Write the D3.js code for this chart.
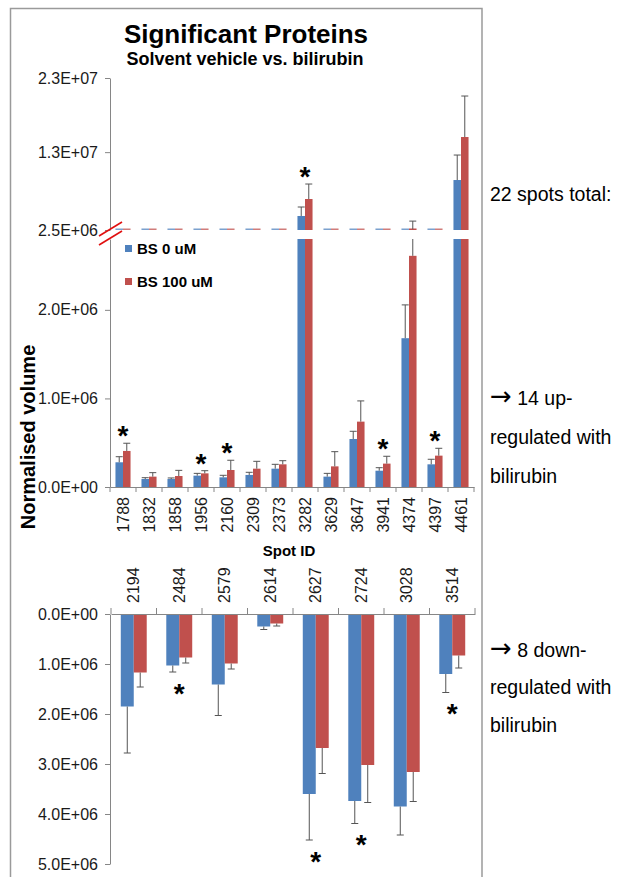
<!DOCTYPE html>
<html><head><meta charset="utf-8">
<script src="https://cdn.jsdelivr.net/npm/d3@7"></script>
<style>
body{margin:0;background:#fff}
svg{display:block}
text{font-family:"Liberation Sans",Arial,sans-serif}
</style>
</head><body>
<svg id="c" width="620" height="877"></svg>
<script>
// ---------- data ----------
const series = ["BS 0 uM", "BS 100 uM"];
const upIds = ["1788","1832","1858","1956","2160","2309","2373","3282","3629","3647","3941","4374","4397","4461"];
const upBS0     = [0.279e6, 0.090e6, 0.090e6, 0.128e6, 0.109e6, 0.136e6, 0.207e6, 4.39e6, 0.117e6, 0.542e6, 0.184e6, 1.68e6, 0.256e6, 9.24e6];
const upBS0Err  = [0.063e6, 0.015e6, 0.012e6, 0.026e6, 0.023e6, 0.030e6, 0.049e6, 1.21e6, 0.037e6, 0.087e6, 0.034e6, 0.376e6, 0.057e6, 3.37e6];
const upBS100   = [0.407e6, 0.117e6, 0.124e6, 0.154e6, 0.192e6, 0.207e6, 0.256e6, 6.68e6, 0.233e6, 0.738e6, 0.264e6, 2.61e6, 0.354e6, 15.04e6];
const upBS100Err= [0.087e6, 0.045e6, 0.064e6, 0.030e6, 0.110e6, 0.083e6, 0.041e6, 2.02e6, 0.166e6, 0.234e6, 0.083e6, 1.09e6, 0.083e6, 5.53e6];
const upSig = ["1788","1956","2160","3282","3941","4397"];

const downIds = ["2194","2484","2579","2614","2627","2724","3028","3514"];
const downBS0     = [1.85e6, 1.03e6, 1.41e6, 0.25e6, 3.60e6, 3.74e6, 3.85e6, 1.20e6];
const downBS0Err  = [0.93e6, 0.13e6, 0.62e6, 0.06e6, 0.92e6, 0.45e6, 0.57e6, 0.37e6];
const downBS100   = [1.17e6, 0.87e6, 0.99e6, 0.19e6, 2.68e6, 3.02e6, 3.16e6, 0.83e6];
const downBS100Err= [0.29e6, 0.11e6, 0.11e6, 0.05e6, 0.51e6, 0.75e6, 0.59e6, 0.25e6];
const downSig = ["2484","2627","2724","3514"];

const upTicksHigh = [2.5e6, 1.3e7, 2.3e7];
const upTicksLow = [0, 1e6, 2e6];
const downTicks = [0, 1e6, 2e6, 3e6, 4e6, 5e6];

const titleText = "Significant Proteins";
const subtitleText = "Solvent vehicle vs. bilirubin";
const yTitle = "Normalised volume";
const xTitle = "Spot ID";
// side notes: [arrow?, text]
const sideUp = [["", "22 spots total:"], ["\u2192", " 14 up-"], ["", "regulated with"], ["", "bilirubin"]];
const sideDown = [["\u2192", " 8 down-"], ["", "regulated with"], ["", "bilirubin"]];

// ---------- style ----------
const colors = ["#4F81BD", "#C0504D"];
const axisColor = "#868686";
const errColor = "#555";
const textColor = "#1a1a1a";

const fmt = v => {
  const [m, e] = v.toExponential(1).split("e");
  const n = +e;
  return m + "E" + (n < 0 ? "-" : "+") + String(Math.abs(n)).padStart(2, "0");
};

const svg = d3.select("#c");
svg.append("rect").attr("width", 620).attr("height", 877).attr("fill", "#fff");
svg.append("rect").attr("x", 10.5).attr("y", 8.5).attr("width", 471.5).attr("height", 900)
  .attr("fill", "none").attr("stroke", "#9a9a9a").attr("stroke-width", 1.5);

// ---------- scales ----------
const brkLo = 2.5e6, lowTop = 2.8e6;
const yH = d3.scaleLinear().domain([brkLo, 2.3e7]).range([230, 78]);
const yL = d3.scaleLinear().domain([0, lowTop]).range([487, 239]);
const yD = d3.scaleLinear().domain([0, 5e6]).range([614, 864]);

const x0 = d3.scaleBand().domain(upIds).range([110, 474]).paddingInner(0.42).paddingOuter(0.21);
const x1 = d3.scaleBand().domain([0, 1]).range([0, x0.bandwidth()]);
const xd0 = d3.scaleBand().domain(downIds).range([111, 475]).paddingInner(0.43).paddingOuter(0.215);
const xd1 = d3.scaleBand().domain([0, 1]).range([0, xd0.bandwidth()]);

const upRows = upIds.map((id, i) => ({id, v: [upBS0[i], upBS100[i]], e: [upBS0Err[i], upBS100Err[i]]}));
const downRows = downIds.map((id, i) => ({id, v: [downBS0[i], downBS100[i]], e: [downBS0Err[i], downBS100Err[i]]}));

// ---------- titles ----------
svg.append("text").attr("x", 246).attr("y", 43).attr("text-anchor", "middle")
  .attr("font-size", 26).attr("font-weight", "bold").attr("fill", "#000").text(titleText);
svg.append("text").attr("x", 245).attr("y", 65).attr("text-anchor", "middle")
  .attr("font-size", 18).attr("font-weight", "bold").attr("fill", "#000").text(subtitleText);

// ---------- upper chart bars ----------
const gUp = svg.append("g");
const capW = 7;
function errLine(g, x, y1, y2, cap) {
  g.append("line").attr("x1", x).attr("x2", x).attr("y1", y1).attr("y2", y2)
    .attr("stroke", errColor).attr("stroke-width", 1);
  if (cap) g.append("line").attr("x1", x - capW / 2).attr("x2", x + capW / 2).attr("y1", y2).attr("y2", y2)
    .attr("stroke", errColor).attr("stroke-width", 1);
}
upRows.forEach(r => {
  [0, 1].forEach(s => {
    const v = r.v[s], e = r.e[s];
    const bx = x0(r.id) + x1(s), bw = x1.bandwidth(), cx = bx + bw / 2;
    const top = yL(Math.min(v, lowTop));
    gUp.append("rect").attr("x", bx).attr("y", top).attr("width", bw).attr("height", yL(0) - top)
      .attr("fill", colors[s]);
    if (v < lowTop) errLine(gUp, cx, yL(v), yL(Math.min(v + e, lowTop)), v + e <= lowTop);
    const hTop = yH(Math.max(v, brkLo));
    gUp.append("rect").attr("x", bx).attr("y", Math.min(hTop, yH(brkLo) - 1.5)).attr("width", bw)
      .attr("height", Math.max(1.5, yH(brkLo) - hTop)).attr("fill", colors[s])
      .attr("opacity", v > brkLo ? 1 : 0.75);
    if (v + e > brkLo) errLine(gUp, cx, yH(Math.max(v, brkLo)), yH(v + e), true);
  });
});

const starFs = 28;
function star(x, cy) {
  svg.append("text").attr("x", x).attr("y", cy + 0.6 * starFs).attr("text-anchor", "middle")
    .attr("font-size", starFs).attr("font-weight", "bold").attr("fill", "#000").text("*");
}
upRows.filter(r => upSig.includes(r.id)).forEach(r => {
  const t = d3.max([0, 1], s => r.v[s] + r.e[s]);
  const y = t > brkLo ? yH(t) : yL(t);
  star(x0(r.id) + x0.bandwidth() / 2, y - 15);
});

// ---------- upper axes ----------
function styleAxis(g) {
  g.select(".domain").attr("stroke", axisColor);
  g.selectAll(".tick line").attr("stroke", axisColor);
  g.selectAll(".tick text").attr("fill", textColor).attr("font-size", 16)
    .attr("font-family", '"Liberation Sans",Arial,sans-serif');
}
svg.append("g").attr("transform", "translate(110,0)")
  .call(d3.axisLeft(yH).tickValues(upTicksHigh).tickFormat(fmt).tickSize(5).tickSizeOuter(0).tickPadding(7))
  .call(styleAxis);
svg.append("g").attr("transform", "translate(110,0)")
  .call(d3.axisLeft(yL).tickValues(upTicksLow).tickFormat(fmt).tickSize(5).tickSizeOuter(0).tickPadding(7))
  .call(styleAxis);

const gxu = svg.append("g").attr("transform", `translate(0,${yL(0)})`)
  .call(d3.axisBottom(x0).tickSize(0).tickSizeOuter(0))
  .call(styleAxis);
gxu.selectAll(".tick text").attr("font-size", 16).attr("transform", "rotate(-90)")
  .attr("x", -10).attr("y", 0).attr("dy", "0.35em").attr("text-anchor", "end");
const bU = upIds.map(id => x0(id) - x0.step() * x0.paddingOuter()).concat([x0.range()[1]]);
gxu.selectAll(".bt").data(bU).join("line").attr("class", "bt")
  .attr("x1", d => d).attr("x2", d => d).attr("y1", 0).attr("y2", 5).attr("stroke", axisColor);

// break marks
[yH(brkLo) - 1, yL(lowTop) - 1].forEach(cy => {
  svg.append("line").attr("x1", 99).attr("y1", cy + 7).attr("x2", 122).attr("y2", cy - 7)
    .attr("stroke", "#e01010").attr("stroke-width", 1.6);
});

// legend
series.forEach((s, i) => {
  const ly = 248.5 + i * 33;
  svg.append("rect").attr("x", 125).attr("y", ly - 3.5).attr("width", 7).attr("height", 7).attr("fill", colors[i]);
  svg.append("text").attr("x", 137).attr("y", ly + 5.5).attr("font-size", 15).attr("font-weight", "bold")
    .attr("fill", "#000").text(s);
});

// axis titles
svg.append("text").attr("transform", "translate(35,437) rotate(-90)").attr("text-anchor", "middle")
  .attr("font-size", 20).attr("font-weight", "bold").attr("fill", "#000").text(yTitle);
svg.append("text").attr("x", 289).attr("y", 556).attr("text-anchor", "middle")
  .attr("font-size", 15).attr("font-weight", "bold").attr("fill", "#000").text(xTitle);

// ---------- lower chart ----------
const gDn = svg.append("g");
downRows.forEach(r => {
  [0, 1].forEach(s => {
    const v = r.v[s], e = r.e[s];
    const bx = xd0(r.id) + xd1(s), bw = xd1.bandwidth(), cx = bx + bw / 2;
    gDn.append("rect").attr("x", bx).attr("y", yD(0)).attr("width", bw).attr("height", yD(v) - yD(0))
      .attr("fill", colors[s]);
    errLine(gDn, cx, yD(v), yD(v + e), true);
  });
});
downRows.filter(r => downSig.includes(r.id)).forEach(r => {
  const t = d3.max([0, 1], s => r.v[s] + r.e[s]);
  star(xd0(r.id) + xd0.bandwidth() / 2, yD(t) + 14);
});

svg.append("g").attr("transform", "translate(110,0)")
  .call(d3.axisLeft(yD).tickValues(downTicks).tickFormat(fmt).tickSize(5).tickSizeOuter(0).tickPadding(7))
  .call(styleAxis);
const gxd = svg.append("g").attr("transform", `translate(0,${yD(0)})`)
  .call(d3.axisTop(xd0).tickSize(0).tickSizeOuter(0))
  .call(styleAxis);
gxd.selectAll(".tick text").attr("font-size", 16).attr("transform", "rotate(-90)")
  .attr("x", 11).attr("y", 0).attr("dy", "0.35em").attr("text-anchor", "start");
const bD = downIds.map(id => xd0(id) - xd0.step() * xd0.paddingOuter()).concat([xd0.range()[1]]);
gxd.selectAll(".bt").data(bD).join("line").attr("class", "bt")
  .attr("x1", d => d).attr("x2", d => d).attr("y1", 0).attr("y2", -6).attr("stroke", axisColor);

// ---------- side notes ----------
function sideNote(parts, y) {
  const t = svg.append("text").attr("x", 490).attr("y", y).attr("font-size", 19.5).attr("fill", "#000");
  if (parts[0]) t.append("tspan").attr("font-family", '"DejaVu Sans",sans-serif').attr("font-size", 26)
    .attr("transform", "scale(1.2,1)").text(parts[0]);
  t.append("tspan").text(parts[1]);
}
const sideY = [201, 405, 444, 483];
sideUp.forEach((p, i) => sideNote(p, sideY[i]));
const sideY2 = [657, 694, 732];
sideDown.forEach((p, i) => sideNote(p, sideY2[i]));
</script>
</body></html>
